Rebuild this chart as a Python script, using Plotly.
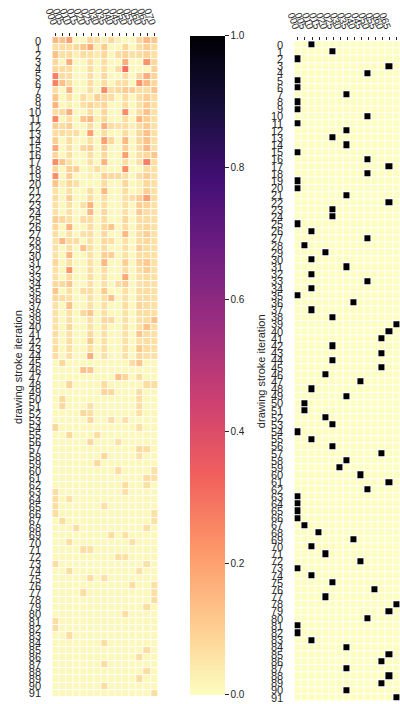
import plotly.graph_objects as go
import plotly.express as px

W, H = 400, 704

col_labels = ["000", "005", "010", "015", "020", "025", "030", "035",
              "040", "045", "050", "055", "060", "065", "070"]
row_labels = [str(i) for i in range(92)]

# left heatmap values, in percent
attention_pct = [
    [15,13,20,1,1,8,6,3,8,3,1,1,8,15,12],
    [7,7,7,8,12,18,3,11,1,1,8,1,7,10,7],
    [13,6,7,3,7,6,4,8,1,7,9,6,7,9,6],
    [8,1,17,1,1,7,1,7,1,1,17,1,1,23,8],
    [8,7,7,1,1,7,1,7,1,7,30,1,1,1,9],
    [27,7,7,1,1,7,1,8,1,1,7,1,8,17,9],
    [26,13,7,1,1,7,1,7,1,6,7,1,23,15,8],
    [7,1,16,1,1,7,1,24,7,8,11,10,7,7,12],
    [12,1,6,1,7,3,10,8,7,1,7,1,7,10,7],
    [16,1,3,1,6,9,6,9,1,1,7,1,6,11,7],
    [7,8,17,1,1,7,1,9,1,1,24,1,7,13,6],
    [25,1,6,1,12,15,3,8,1,1,7,1,16,10,6],
    [10,7,10,1,1,7,1,17,7,6,7,3,7,11,6],
    [7,7,6,7,1,20,1,7,1,1,7,1,8,13,6],
    [10,1,7,1,1,6,1,20,8,1,15,1,8,13,6],
    [18,1,6,1,8,10,1,10,1,1,10,1,7,15,6],
    [8,1,6,1,1,7,1,8,1,1,20,1,6,8,12],
    [24,12,6,1,1,6,1,16,1,1,7,1,6,27,7],
    [8,1,10,10,1,3,7,3,1,1,24,1,1,7,6],
    [24,1,10,1,1,3,1,10,8,8,6,1,7,10,6],
    [12,3,8,6,1,1,1,7,1,1,8,1,3,8,6],
    [6,1,6,1,1,7,1,15,1,1,7,1,3,10,6],
    [7,1,10,1,1,7,1,7,1,1,6,7,10,20,7],
    [6,1,6,1,6,16,1,7,1,1,6,1,10,9,6],
    [6,1,6,1,1,15,1,8,1,1,6,1,11,7,6],
    [10,8,6,1,7,7,1,7,1,1,8,1,7,7,6],
    [8,1,16,1,1,7,1,8,12,1,7,1,7,8,6],
    [7,1,6,1,6,7,1,8,1,1,15,1,7,10,6],
    [6,15,7,7,1,6,1,8,7,1,6,1,7,8,6],
    [6,1,6,1,13,6,1,7,1,1,6,1,10,7,6],
    [6,1,15,1,1,6,1,10,10,1,6,1,7,7,6],
    [8,1,6,1,1,6,1,15,1,1,10,1,9,11,6],
    [6,1,22,1,1,7,1,7,1,1,7,1,7,10,6],
    [6,1,7,1,1,7,1,6,1,1,18,1,6,7,6],
    [8,8,12,1,1,6,1,6,1,7,10,1,6,7,6],
    [12,1,6,1,7,7,1,11,1,1,6,1,7,7,6],
    [8,7,6,1,1,6,1,6,13,1,6,1,7,7,6],
    [6,1,13,1,1,6,1,6,1,1,7,1,9,7,6],
    [6,1,6,1,8,12,1,6,1,1,6,1,7,7,6],
    [6,1,6,1,1,6,1,8,8,1,6,1,6,7,13],
    [6,1,8,1,1,6,1,6,1,1,6,1,6,13,6],
    [7,1,6,1,1,8,1,6,1,1,6,1,12,7,6],
    [6,1,7,1,1,11,1,6,1,1,6,1,6,7,6],
    [7,1,6,1,1,6,1,6,1,1,6,1,11,7,6],
    [7,1,6,1,1,17,1,6,1,1,6,1,8,6,6],
    [1,8,1,1,1,1,1,1,1,1,1,7,12,1,1],
    [1,1,1,1,13,12,1,1,1,1,1,1,1,1,1],
    [1,1,1,1,1,1,1,1,1,13,9,1,7,1,1],
    [1,1,9,1,1,1,1,7,1,1,1,1,1,7,7],
    [1,1,1,1,1,1,1,9,8,1,1,1,7,1,1],
    [1,8,1,1,1,1,1,1,1,1,1,1,7,1,1],
    [1,8,1,1,1,6,1,1,1,1,1,1,7,1,1],
    [1,1,1,1,8,7,1,1,1,1,1,1,6,1,1],
    [1,1,1,1,1,8,1,1,7,1,6,1,1,1,1],
    [8,1,1,1,1,1,1,1,1,1,1,1,6,1,1],
    [1,1,8,1,1,1,7,1,1,1,1,1,1,1,1],
    [1,1,1,1,1,8,1,1,1,6,1,1,1,1,1],
    [1,1,1,1,1,1,1,1,1,1,1,1,8,7,1],
    [1,1,1,1,1,1,1,8,1,1,1,1,6,1,1],
    [1,1,1,1,1,1,8,1,1,1,1,1,1,1,1],
    [1,1,1,1,1,1,1,1,1,7,1,1,1,1,6],
    [1,1,1,1,1,1,1,1,1,1,1,1,1,7,6],
    [1,1,1,1,1,1,1,1,1,1,7,1,1,6,1],
    [7,1,1,1,1,1,1,1,1,1,6,1,1,1,1],
    [7,1,6,1,1,1,1,1,1,1,1,1,1,1,1],
    [7,1,1,1,1,1,1,6,1,1,1,1,1,1,1],
    [7,1,1,1,1,1,1,1,1,1,1,1,1,1,6],
    [1,7,1,1,1,1,1,1,1,1,1,1,1,1,6],
    [1,1,1,7,1,1,1,1,1,1,1,1,1,6,1],
    [1,1,1,1,1,1,1,1,7,1,6,1,1,1,1],
    [1,1,7,1,1,1,1,1,1,1,1,6,1,1,1],
    [1,1,1,1,7,6,1,1,1,1,1,1,1,1,1],
    [1,1,1,1,1,1,1,1,1,7,6,1,1,1,1],
    [7,1,1,1,1,1,1,1,1,1,1,1,1,6,1],
    [1,1,7,1,1,1,1,1,1,1,1,1,6,1,1],
    [1,1,1,1,1,7,1,6,1,1,1,1,1,1,1],
    [1,1,1,1,1,1,1,1,1,1,1,7,1,1,6],
    [1,1,1,1,7,1,1,1,1,1,1,1,1,1,6],
    [1,1,1,1,1,1,1,1,1,1,1,1,1,1,7],
    [1,1,1,1,1,1,1,1,1,1,1,1,1,7,1],
    [1,1,1,1,1,1,1,1,1,1,7,1,1,1,1],
    [7,1,1,1,1,1,1,1,1,1,1,1,1,1,1],
    [7,1,1,1,1,1,1,1,1,1,1,1,1,1,1],
    [1,1,7,1,1,1,1,1,1,1,1,1,1,1,1],
    [1,1,1,1,1,1,1,7,1,1,1,1,1,1,1],
    [1,1,1,1,1,1,1,1,1,1,1,1,1,7,1],
    [1,1,1,1,1,1,1,1,1,1,1,1,7,1,1],
    [1,1,1,1,1,1,1,7,1,1,1,1,1,1,1],
    [1,1,1,1,1,1,1,1,1,1,1,1,1,7,1],
    [1,1,1,1,1,1,1,1,1,1,1,1,7,1,1],
    [1,1,1,1,1,1,1,7,1,1,1,1,1,1,1],
    [1,1,1,1,1,1,1,1,1,1,1,1,1,1,7],
]

# right heatmap: the selected column for each row
winner_col = [2,5,0,13,10,0,0,7,0,0, 10,0,7,5,7,0,10,13,10,0,
              0,7,13,5,5,0,2,10,1,4, 2,7,2,10,2,0,8,2,5,14,
              13,12,5,12,5,12,4,9,2,7, 1,1,4,5,0,2,5,12,7,6,
              9,13,10,0,0,0,0,1,3,8, 2,4,9,0,2,5,11,4,14,13,
              10,0,0,2,7,13,12,7,13,12, 7,14]

z_left = [[v / 100 for v in row] for row in attention_pct]
z_right = [[1 if c == w else 0 for c in range(len(col_labels))] for w in winner_col]

mag = px.colors.sequential.Magma[::-1]
cs = [[i / (len(mag) - 1), c] for i, c in enumerate(mag)]

xs = list(range(len(col_labels)))
ys = list(range(len(row_labels)))

TXT = "#262626"
FONT = "Liberation Sans Narrow, Liberation Sans, Arial, sans-serif"

fig = go.Figure()
fig.add_trace(go.Heatmap(
    x=xs, y=ys, z=z_left, xgap=1, ygap=1, zmin=0, zmax=1, colorscale=cs,
    xaxis="x", yaxis="y",
    colorbar=dict(x=185 / W, xanchor="left", xpad=0, ypad=0,
                  thickness=35, thicknessmode="pixels",
                  len=664 / H, lenmode="fraction", y=1 - 365 / H, yanchor="middle",
                  tickvals=[0, 0.2, 0.4, 0.6, 0.8, 1.0],
                  ticktext=["0.0", "0.2", "0.4", "0.6", "0.8", "1.0"],
                  ticks="outside", ticklen=4, tickcolor=TXT,
                  tickfont=dict(size=10, color=TXT, family="Liberation Sans, Arial"),
                  outlinewidth=0),
))
fig.add_trace(go.Heatmap(
    x=xs, y=ys, z=z_right, xgap=1, ygap=1, zmin=0, zmax=1, colorscale=cs,
    showscale=False, xaxis="x2", yaxis="y2",
))

xcommon = dict(side="top", tickmode="array", tickvals=xs, ticktext=col_labels,
               tickangle=70, ticks="outside", ticklen=3, tickcolor=TXT,
               tickfont=dict(size=10, color=TXT, family=FONT),
               showgrid=False, zeroline=False, showline=False)
ycommon = dict(tickmode="array", tickvals=ys, ticktext=row_labels, autorange="reversed",
               ticks="outside", ticklen=8, tickcolor="rgba(0,0,0,0)",
               tickfont=dict(size=11, color=TXT, family=FONT),
               showgrid=False, zeroline=False, showline=False,
               title=dict(text="drawing stroke iteration", standoff=3,
                          font=dict(size=11, color=TXT, family="Liberation Sans, Arial")))

fig.update_layout(
    width=W, height=H, margin=dict(l=0, r=0, t=0, b=0),
    paper_bgcolor="white", plot_bgcolor="white",
    xaxis=dict(domain=[44.3 / W, 152.3 / W], anchor="y", **xcommon),
    yaxis=dict(domain=[1 - 699 / H, 1 - 34.3 / H], anchor="x", **ycommon),
    xaxis2=dict(domain=[292 / W, 1.0], anchor="y2", **xcommon),
    yaxis2=dict(domain=[1 - 703.3 / H, 1 - 38.5 / H], anchor="x2", **ycommon),
)

fig.write_html("out.html")
